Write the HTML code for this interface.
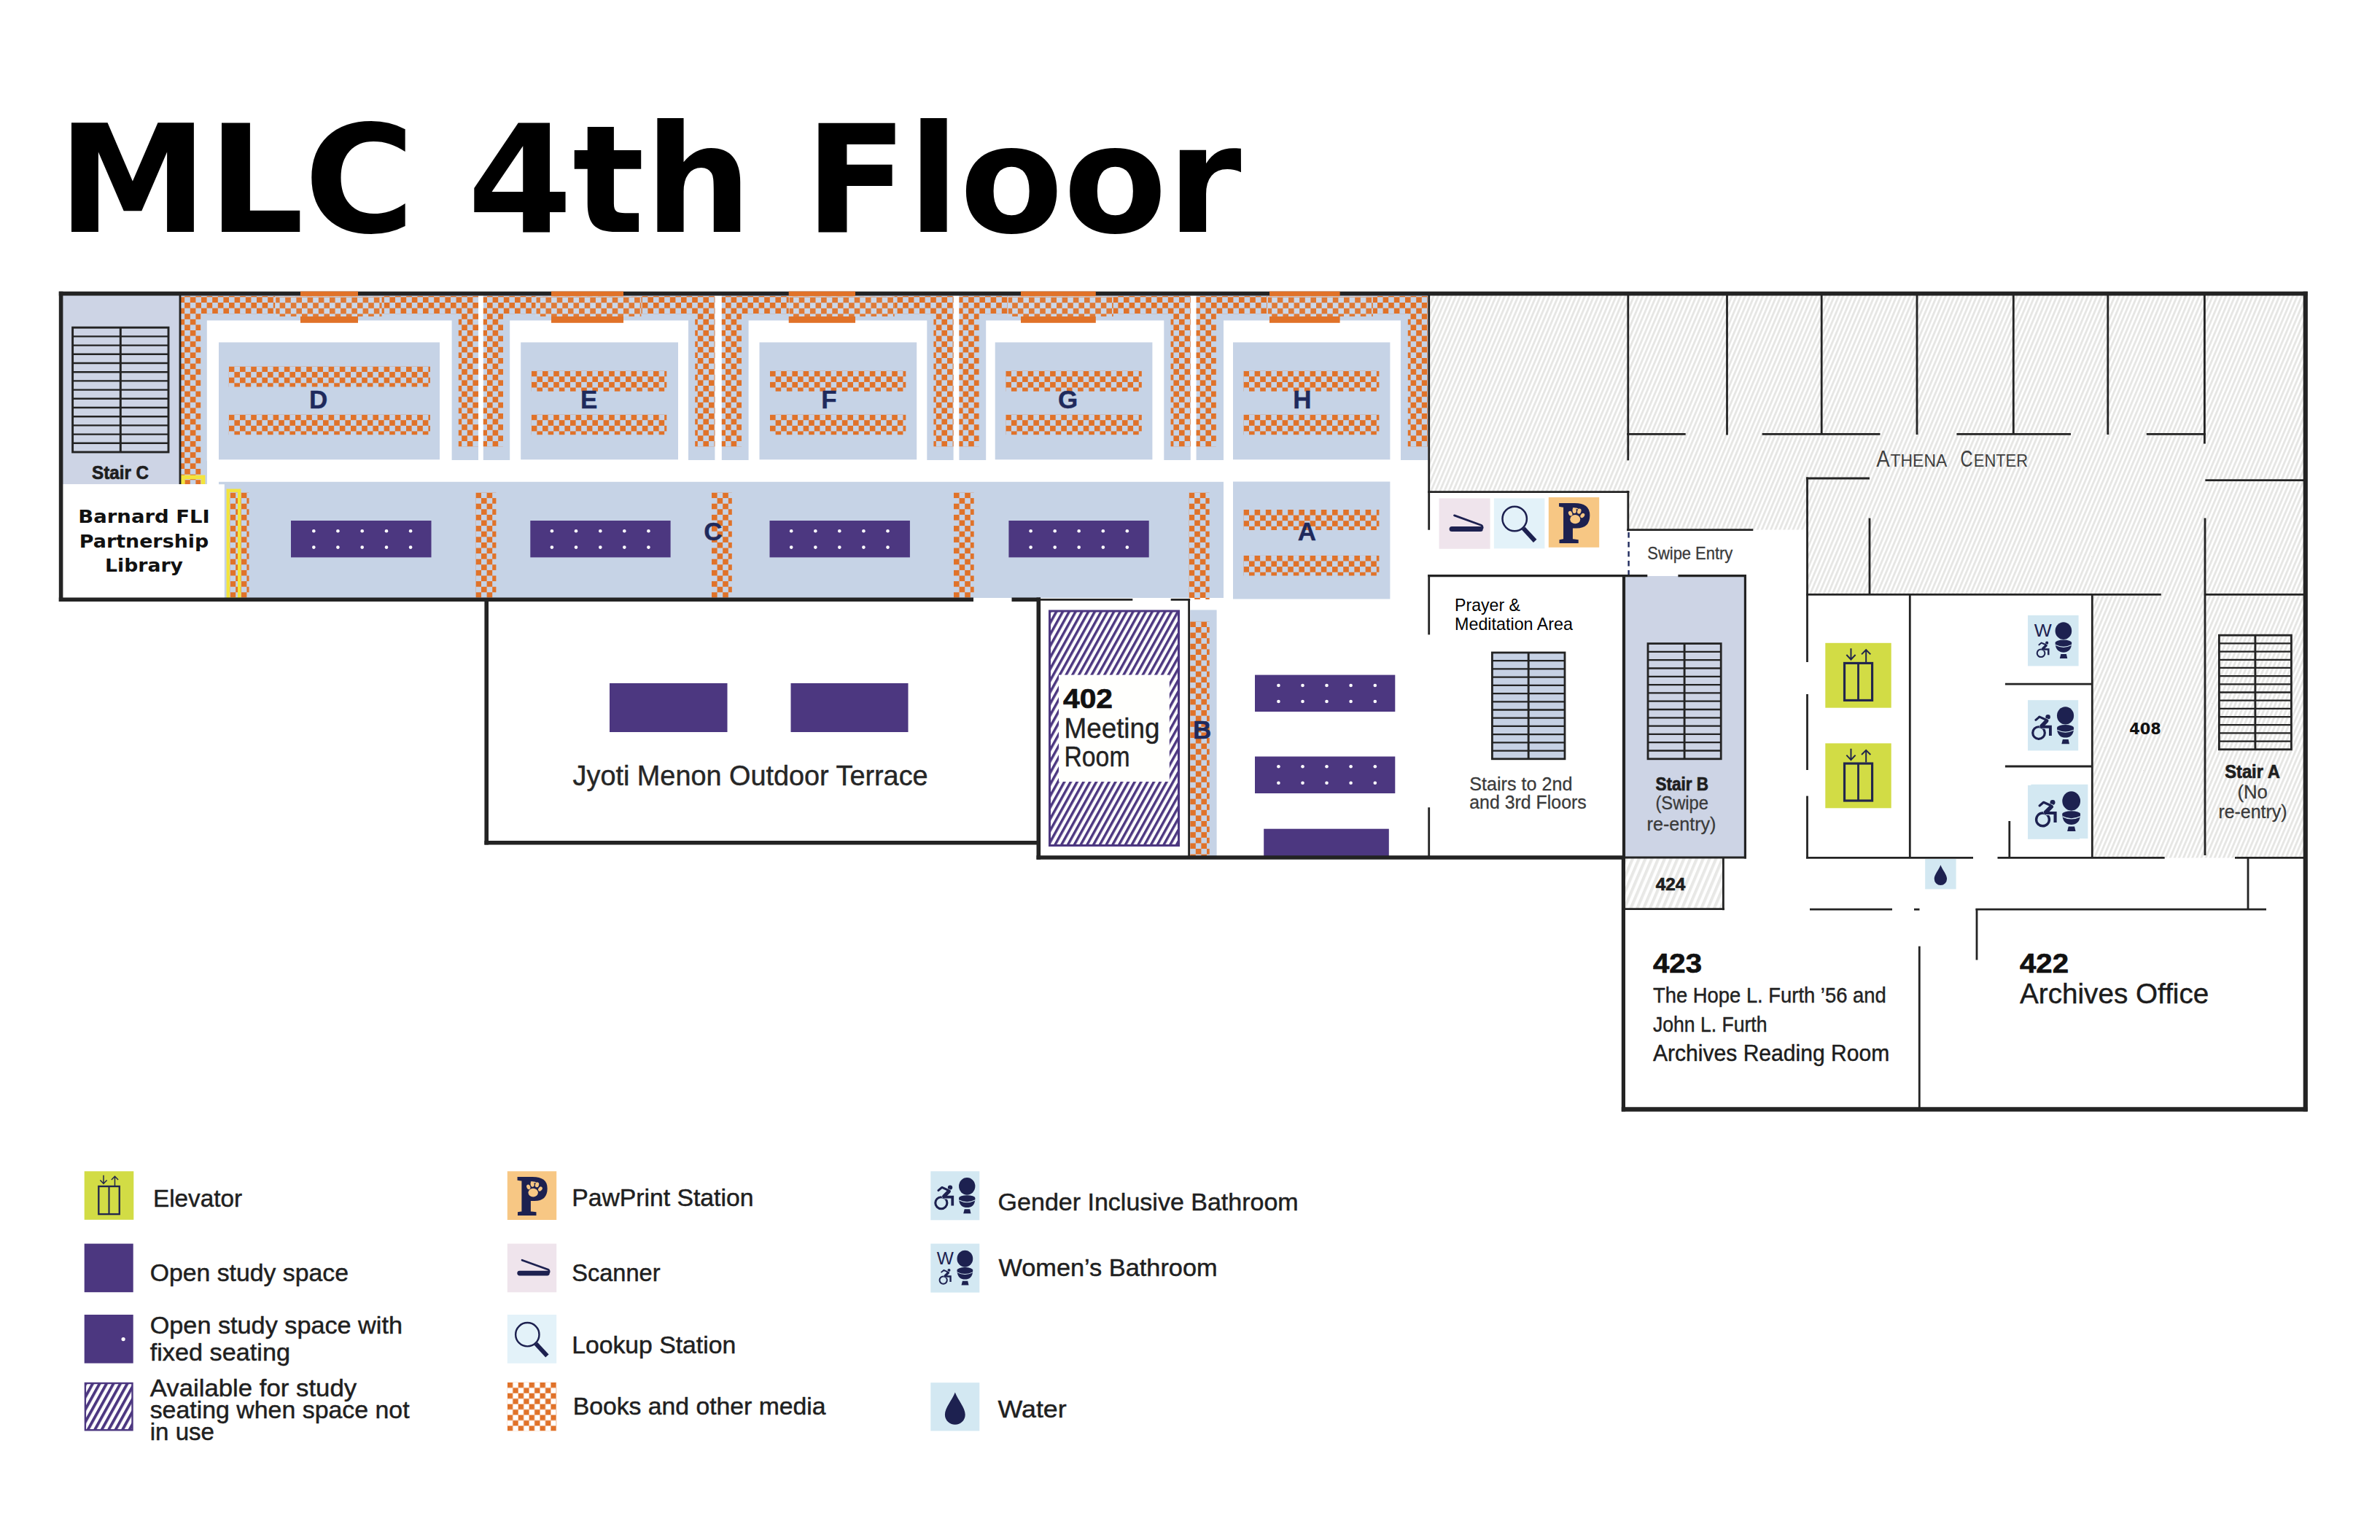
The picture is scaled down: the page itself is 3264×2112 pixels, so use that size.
<!DOCTYPE html>
<html lang="en"><head><meta charset="utf-8"><title>MLC 4th Floor</title>
<style>
html,body{margin:0;padding:0;background:#fff;}
body{width:3264px;height:2112px;overflow:hidden;}
svg{display:block;}
text{white-space:pre;}
</style></head><body>
<svg width="3264" height="2112" viewBox="0 0 3264 2112">
<rect width="3264" height="2112" fill="#ffffff"/>
<defs>
<pattern id="chk" patternUnits="userSpaceOnUse" width="15.2" height="15.2"><rect x="0" y="0" width="7.6" height="7.6" fill="#e07229"/><rect x="7.6" y="7.6" width="7.6" height="7.6" fill="#e07229"/></pattern>
<pattern id="chk2" patternUnits="userSpaceOnUse" width="15.2" height="15.2"><rect x="0" y="0" width="7.6" height="7.6" fill="#df7a36"/><rect x="7.6" y="7.6" width="7.6" height="7.6" fill="#df7a36"/></pattern>
<pattern id="chkL" patternUnits="userSpaceOnUse" width="14.9" height="14.9"><rect x="0" y="0" width="7.45" height="7.45" fill="#e07229"/><rect x="7.45" y="7.45" width="7.45" height="7.45" fill="#e07229"/></pattern>
<pattern id="hatch" patternUnits="userSpaceOnUse" width="5.62" height="12" patternTransform="rotate(23)"><rect x="0" y="0" width="5.62" height="12" fill="#ffffff"/><rect x="0" y="0" width="2.9" height="12" fill="#e6e6e4"/></pattern>
<pattern id="hatch2" patternUnits="userSpaceOnUse" width="8.1" height="12" patternTransform="rotate(23)"><rect x="0" y="0" width="8.1" height="12" fill="#ffffff"/><rect x="0" y="0" width="4.1" height="12" fill="#e8e8e6"/></pattern>
<pattern id="phatch" patternUnits="userSpaceOnUse" width="7.67" height="12" patternTransform="rotate(29)"><rect x="0" y="0" width="7.67" height="12" fill="#ffffff"/><rect x="0" y="0" width="3.5" height="12" fill="#4c3780"/></pattern>
<pattern id="phatchL" patternUnits="userSpaceOnUse" width="8.3" height="12" patternTransform="rotate(29)"><rect x="0" y="0" width="8.3" height="12" fill="#ffffff"/><rect x="0" y="0" width="3.9" height="12" fill="#4c3780"/></pattern>
</defs>
<text x="79.0" y="317.6" font-family="'DejaVu Sans', sans-serif" font-size="205" font-weight="bold" fill="#000" text-anchor="start" textLength="1623.6" lengthAdjust="spacingAndGlyphs" >MLC 4th Floor</text>
<rect x="86.0" y="405.0" width="160.0" height="259.0" fill="#cdd4e5" />
<rect x="248.0" y="631.0" width="36.0" height="33.0" fill="#c6d3e6" />
<rect x="248.0" y="405.0" width="408.0" height="226.0" fill="#c6d3e6" />
<rect x="283.8" y="439.5" width="335.8" height="192.5" fill="#fff" />
<rect x="300.0" y="469.5" width="303.0" height="160.8" fill="#c6d3e6" />
<g transform="translate(245.60,407.40)"><rect x="2.40" y="-1.40" width="408.00" height="24.20" fill="url(#chk)"/></g>
<g transform="translate(245.60,407.40)"><rect x="2.40" y="22.80" width="27.20" height="233.80" fill="url(#chk)"/></g>
<g transform="translate(245.60,407.40)"><rect x="383.20" y="22.80" width="27.20" height="182.30" fill="url(#chk)"/></g>
<g transform="translate(313.80,502.50)"><rect x="0.00" y="0.00" width="276.20" height="28.00" fill="url(#chk)"/></g>
<g transform="translate(313.80,568.60)"><rect x="0.00" y="0.00" width="276.20" height="27.60" fill="url(#chk)"/></g>
<rect x="377.2" y="406.2" width="146.4" height="27.8" fill="#cbd7e8" />
<g transform="translate(376.00,407.60)"><rect x="2.20" y="-0.40" width="145.40" height="26.80" fill="url(#chk2)"/></g>
<rect x="662.8" y="405.0" width="317.6" height="226.0" fill="#c6d3e6" />
<rect x="699.2" y="439.5" width="244.8" height="192.5" fill="#fff" />
<rect x="714.2" y="469.5" width="215.8" height="160.8" fill="#c6d3e6" />
<g transform="translate(660.40,407.40)"><rect x="2.40" y="-1.40" width="317.60" height="24.20" fill="url(#chk)"/></g>
<g transform="translate(660.40,407.40)"><rect x="2.40" y="22.80" width="27.20" height="182.30" fill="url(#chk)"/></g>
<g transform="translate(660.40,407.40)"><rect x="292.80" y="22.80" width="27.20" height="182.30" fill="url(#chk)"/></g>
<g transform="translate(728.80,508.70)"><rect x="0.00" y="0.00" width="185.50" height="28.00" fill="url(#chk)"/></g>
<g transform="translate(728.80,568.60)"><rect x="0.00" y="0.00" width="185.50" height="27.60" fill="url(#chk)"/></g>
<rect x="734.5" y="406.2" width="144.9" height="27.8" fill="#cbd7e8" />
<g transform="translate(733.30,407.60)"><rect x="2.20" y="-0.40" width="143.90" height="26.80" fill="url(#chk2)"/></g>
<rect x="989.8" y="405.0" width="317.8" height="226.0" fill="#c6d3e6" />
<rect x="1026.6" y="439.5" width="244.7" height="192.5" fill="#fff" />
<rect x="1041.5" y="469.5" width="215.7" height="160.8" fill="#c6d3e6" />
<g transform="translate(987.40,407.40)"><rect x="2.40" y="-1.40" width="317.80" height="24.20" fill="url(#chk)"/></g>
<g transform="translate(987.40,407.40)"><rect x="2.40" y="22.80" width="27.20" height="182.30" fill="url(#chk)"/></g>
<g transform="translate(987.40,407.40)"><rect x="293.00" y="22.80" width="27.20" height="182.30" fill="url(#chk)"/></g>
<g transform="translate(1056.00,508.70)"><rect x="0.00" y="0.00" width="186.30" height="28.00" fill="url(#chk)"/></g>
<g transform="translate(1056.00,568.60)"><rect x="0.00" y="0.00" width="186.30" height="27.60" fill="url(#chk)"/></g>
<rect x="1081.7" y="406.2" width="145.0" height="27.8" fill="#cbd7e8" />
<g transform="translate(1080.50,407.60)"><rect x="2.20" y="-0.40" width="144.00" height="26.80" fill="url(#chk2)"/></g>
<rect x="1315.4" y="405.0" width="317.4" height="226.0" fill="#c6d3e6" />
<rect x="1352.2" y="439.5" width="244.1" height="192.5" fill="#fff" />
<rect x="1364.7" y="469.5" width="215.7" height="160.8" fill="#c6d3e6" />
<g transform="translate(1313.00,407.40)"><rect x="2.40" y="-1.40" width="317.40" height="24.20" fill="url(#chk)"/></g>
<g transform="translate(1313.00,407.40)"><rect x="2.40" y="22.80" width="27.20" height="182.30" fill="url(#chk)"/></g>
<g transform="translate(1313.00,407.40)"><rect x="292.60" y="22.80" width="27.20" height="182.30" fill="url(#chk)"/></g>
<g transform="translate(1379.30,508.70)"><rect x="0.00" y="0.00" width="186.50" height="28.00" fill="url(#chk)"/></g>
<g transform="translate(1379.30,568.60)"><rect x="0.00" y="0.00" width="186.50" height="27.60" fill="url(#chk)"/></g>
<rect x="1381.8" y="406.2" width="145.0" height="27.8" fill="#cbd7e8" />
<g transform="translate(1380.60,407.60)"><rect x="2.20" y="-0.40" width="144.00" height="26.80" fill="url(#chk2)"/></g>
<rect x="1640.6" y="405.0" width="317.4" height="226.0" fill="#c6d3e6" />
<rect x="1678.0" y="439.5" width="243.0" height="192.5" fill="#fff" />
<rect x="1691.0" y="469.5" width="215.4" height="160.8" fill="#c6d3e6" />
<g transform="translate(1638.20,407.40)"><rect x="2.40" y="-1.40" width="317.40" height="24.20" fill="url(#chk)"/></g>
<g transform="translate(1638.20,407.40)"><rect x="2.40" y="22.80" width="27.20" height="182.30" fill="url(#chk)"/></g>
<g transform="translate(1638.20,407.40)"><rect x="292.60" y="22.80" width="27.20" height="182.30" fill="url(#chk)"/></g>
<g transform="translate(1705.40,508.70)"><rect x="0.00" y="0.00" width="186.00" height="28.00" fill="url(#chk)"/></g>
<g transform="translate(1705.40,568.60)"><rect x="0.00" y="0.00" width="186.00" height="27.60" fill="url(#chk)"/></g>
<rect x="1737.8" y="406.2" width="145.0" height="27.8" fill="#cbd7e8" />
<g transform="translate(1736.60,407.60)"><rect x="2.20" y="-0.40" width="144.00" height="26.80" fill="url(#chk2)"/></g>
<rect x="300.0" y="660.8" width="1378.0" height="159.2" fill="#c6d3e6" />
<rect x="1691.0" y="660.5" width="215.4" height="161.0" fill="#c6d3e6" />
<g transform="translate(1705.40,699.00)"><rect x="0.00" y="0.00" width="186.00" height="28.00" fill="url(#chk)"/></g>
<g transform="translate(1705.40,761.90)"><rect x="0.00" y="0.00" width="186.00" height="27.60" fill="url(#chk)"/></g>
<rect x="86.0" y="664.2" width="221.8" height="155.8" fill="#fff" />
<g transform="translate(315.60,675.50)"><rect x="0.00" y="0.00" width="25.90" height="144.00" fill="url(#chk)"/></g>
<g transform="translate(652.40,675.50)"><rect x="0.00" y="0.00" width="28.00" height="144.00" fill="url(#chk)"/></g>
<g transform="translate(976.00,675.50)"><rect x="0.00" y="0.00" width="27.80" height="144.00" fill="url(#chk)"/></g>
<g transform="translate(1308.00,675.50)"><rect x="0.00" y="0.00" width="27.70" height="144.00" fill="url(#chk)"/></g>
<g transform="translate(1630.60,675.50)"><rect x="0.00" y="0.00" width="28.10" height="146.50" fill="url(#chk)"/></g>
<rect x="250.8" y="654.4" width="27.8" height="14" fill="none" stroke="#f3e43c" stroke-width="5.6"/>
<rect x="246.0" y="664.0" width="38.0" height="10.0" fill="#fff" />
<rect x="312.8" y="672.7" width="15.4" height="149" fill="none" stroke="#f3e43c" stroke-width="4.4"/>
<rect x="399.0" y="714.0" width="192.5" height="50.4" fill="#4c3780" />
<circle cx="430.3" cy="728.2" r="2.3" fill="#fff"/>
<circle cx="430.3" cy="750.6" r="2.3" fill="#fff"/>
<circle cx="463.4" cy="728.2" r="2.3" fill="#fff"/>
<circle cx="463.4" cy="750.6" r="2.3" fill="#fff"/>
<circle cx="496.7" cy="728.2" r="2.3" fill="#fff"/>
<circle cx="496.7" cy="750.6" r="2.3" fill="#fff"/>
<circle cx="530.0" cy="728.2" r="2.3" fill="#fff"/>
<circle cx="530.0" cy="750.6" r="2.3" fill="#fff"/>
<circle cx="563.1" cy="728.2" r="2.3" fill="#fff"/>
<circle cx="563.1" cy="750.6" r="2.3" fill="#fff"/>
<rect x="727.3" y="714.0" width="192.3" height="50.4" fill="#4c3780" />
<circle cx="756.9" cy="728.2" r="2.3" fill="#fff"/>
<circle cx="756.9" cy="750.6" r="2.3" fill="#fff"/>
<circle cx="790.0" cy="728.2" r="2.3" fill="#fff"/>
<circle cx="790.0" cy="750.6" r="2.3" fill="#fff"/>
<circle cx="823.3" cy="728.2" r="2.3" fill="#fff"/>
<circle cx="823.3" cy="750.6" r="2.3" fill="#fff"/>
<circle cx="856.3" cy="728.2" r="2.3" fill="#fff"/>
<circle cx="856.3" cy="750.6" r="2.3" fill="#fff"/>
<circle cx="889.4" cy="728.2" r="2.3" fill="#fff"/>
<circle cx="889.4" cy="750.6" r="2.3" fill="#fff"/>
<rect x="1055.5" y="714.0" width="192.4" height="50.4" fill="#4c3780" />
<circle cx="1085.2" cy="728.2" r="2.3" fill="#fff"/>
<circle cx="1085.2" cy="750.6" r="2.3" fill="#fff"/>
<circle cx="1118.3" cy="728.2" r="2.3" fill="#fff"/>
<circle cx="1118.3" cy="750.6" r="2.3" fill="#fff"/>
<circle cx="1151.3" cy="728.2" r="2.3" fill="#fff"/>
<circle cx="1151.3" cy="750.6" r="2.3" fill="#fff"/>
<circle cx="1184.4" cy="728.2" r="2.3" fill="#fff"/>
<circle cx="1184.4" cy="750.6" r="2.3" fill="#fff"/>
<circle cx="1217.5" cy="728.2" r="2.3" fill="#fff"/>
<circle cx="1217.5" cy="750.6" r="2.3" fill="#fff"/>
<rect x="1383.4" y="714.0" width="192.3" height="50.4" fill="#4c3780" />
<circle cx="1413.6" cy="728.2" r="2.3" fill="#fff"/>
<circle cx="1413.6" cy="750.6" r="2.3" fill="#fff"/>
<circle cx="1446.7" cy="728.2" r="2.3" fill="#fff"/>
<circle cx="1446.7" cy="750.6" r="2.3" fill="#fff"/>
<circle cx="1479.7" cy="728.2" r="2.3" fill="#fff"/>
<circle cx="1479.7" cy="750.6" r="2.3" fill="#fff"/>
<circle cx="1512.8" cy="728.2" r="2.3" fill="#fff"/>
<circle cx="1512.8" cy="750.6" r="2.3" fill="#fff"/>
<circle cx="1545.8" cy="728.2" r="2.3" fill="#fff"/>
<circle cx="1545.8" cy="750.6" r="2.3" fill="#fff"/>
<rect x="836.0" y="937.0" width="161.5" height="67.0" fill="#4c3780" />
<rect x="1084.5" y="937.0" width="161.0" height="67.0" fill="#4c3780" />
<rect x="1439.5" y="838" width="177" height="321.5" fill="url(#phatch)" stroke="#4c3780" stroke-width="3"/>
<rect x="1452.0" y="925.6" width="151.8" height="146.4" fill="#fffffd" />
<rect x="1632.2" y="836.5" width="36.4" height="337.5" fill="#c6d3e6" />
<g transform="translate(1632.20,852.40)"><rect x="0.00" y="0.00" width="26.50" height="321.60" fill="url(#chk)"/></g>
<rect x="1721.0" y="925.6" width="192.3" height="50.4" fill="#4c3780" />
<circle cx="1753.4" cy="940.0" r="2.3" fill="#fff"/>
<circle cx="1753.4" cy="962.0" r="2.3" fill="#fff"/>
<circle cx="1786.5" cy="940.0" r="2.3" fill="#fff"/>
<circle cx="1786.5" cy="962.0" r="2.3" fill="#fff"/>
<circle cx="1819.5" cy="940.0" r="2.3" fill="#fff"/>
<circle cx="1819.5" cy="962.0" r="2.3" fill="#fff"/>
<circle cx="1852.6" cy="940.0" r="2.3" fill="#fff"/>
<circle cx="1852.6" cy="962.0" r="2.3" fill="#fff"/>
<circle cx="1885.8" cy="940.0" r="2.3" fill="#fff"/>
<circle cx="1885.8" cy="962.0" r="2.3" fill="#fff"/>
<rect x="1721.0" y="1037.5" width="192.3" height="50.5" fill="#4c3780" />
<circle cx="1753.4" cy="1051.3" r="2.3" fill="#fff"/>
<circle cx="1753.4" cy="1073.7" r="2.3" fill="#fff"/>
<circle cx="1786.5" cy="1051.3" r="2.3" fill="#fff"/>
<circle cx="1786.5" cy="1073.7" r="2.3" fill="#fff"/>
<circle cx="1819.5" cy="1051.3" r="2.3" fill="#fff"/>
<circle cx="1819.5" cy="1073.7" r="2.3" fill="#fff"/>
<circle cx="1852.6" cy="1051.3" r="2.3" fill="#fff"/>
<circle cx="1852.6" cy="1073.7" r="2.3" fill="#fff"/>
<circle cx="1885.8" cy="1051.3" r="2.3" fill="#fff"/>
<circle cx="1885.8" cy="1073.7" r="2.3" fill="#fff"/>
<rect x="1733.2" y="1136.7" width="171.6" height="37.3" fill="#4c3780" />
<path d="M1961 405 H3159 V1176.6 H2869 V815.5 H2478 V726.6 H2233 V674.5 H1961 Z" fill="url(#hatch)"/>
<rect x="2229.0" y="1176.0" width="135.0" height="70.5" fill="url(#hatch2)" />
<rect x="2227" y="790" width="166.5" height="385" fill="#cdd4e5"/>
<line x1="247.0" y1="405.0" x2="247.0" y2="664.0" stroke="#232323" stroke-width="2.8" />
<line x1="1427.0" y1="822.4" x2="1553.3" y2="822.4" stroke="#232323" stroke-width="2.8" />
<line x1="1605.7" y1="822.4" x2="1632.2" y2="822.4" stroke="#232323" stroke-width="2.8" />
<line x1="1630.6" y1="821.0" x2="1630.6" y2="1176.0" stroke="#232323" stroke-width="2.8" />
<line x1="1959.7" y1="405.0" x2="1959.7" y2="726.7" stroke="#232323" stroke-width="2.8" />
<line x1="1958.2" y1="674.6" x2="2234.4" y2="674.6" stroke="#232323" stroke-width="2.8" />
<line x1="2232.8" y1="405.0" x2="2232.8" y2="631.4" stroke="#232323" stroke-width="2.8" />
<line x1="2232.8" y1="673.0" x2="2232.8" y2="728.2" stroke="#232323" stroke-width="2.8" />
<line x1="2231.2" y1="726.6" x2="2404.3" y2="726.6" stroke="#232323" stroke-width="2.8" />
<line x1="2233.6" y1="730" x2="2233.6" y2="788" stroke="#1f2a5c" stroke-width="2.4" stroke-dasharray="7.5 5.5"/>
<line x1="1958.2" y1="789.6" x2="2259.3" y2="789.6" stroke="#232323" stroke-width="3.3" />
<line x1="2301.4" y1="789.6" x2="2395.0" y2="789.6" stroke="#232323" stroke-width="3.3" />
<line x1="1959.7" y1="788.0" x2="1959.7" y2="870.4" stroke="#232323" stroke-width="2.8" />
<line x1="1959.7" y1="1107.3" x2="1959.7" y2="1176.0" stroke="#232323" stroke-width="2.8" />
<line x1="2393.4" y1="788.0" x2="2393.4" y2="1177.5" stroke="#232323" stroke-width="3.1999999999999997" />
<line x1="2229.0" y1="1176.0" x2="2395.0" y2="1176.0" stroke="#232323" stroke-width="3.1999999999999997" />
<line x1="2363.4" y1="1176.0" x2="2363.4" y2="1248.2" stroke="#232323" stroke-width="2.8" />
<line x1="2229.0" y1="1246.6" x2="2365.0" y2="1246.6" stroke="#232323" stroke-width="2.8" />
<line x1="2231.2" y1="595.4" x2="2311.7" y2="595.4" stroke="#232323" stroke-width="2.8" />
<line x1="2416.7" y1="595.4" x2="2578.5" y2="595.4" stroke="#232323" stroke-width="2.8" />
<line x1="2683.4" y1="595.4" x2="2840.0" y2="595.4" stroke="#232323" stroke-width="2.8" />
<line x1="2943.8" y1="595.4" x2="3025.0" y2="595.4" stroke="#232323" stroke-width="2.8" />
<line x1="2368.5" y1="405.0" x2="2368.5" y2="596.5" stroke="#232323" stroke-width="2.8" />
<line x1="2498.2" y1="405.0" x2="2498.2" y2="596.0" stroke="#232323" stroke-width="2.8" />
<line x1="2629.0" y1="405.0" x2="2629.0" y2="596.0" stroke="#232323" stroke-width="2.8" />
<line x1="2761.3" y1="405.0" x2="2761.3" y2="596.0" stroke="#232323" stroke-width="2.8" />
<line x1="2890.8" y1="405.0" x2="2890.8" y2="596.0" stroke="#232323" stroke-width="2.8" />
<line x1="3023.4" y1="405.0" x2="3023.4" y2="608.5" stroke="#232323" stroke-width="2.8" />
<line x1="2477.0" y1="656.0" x2="2564.0" y2="656.0" stroke="#232323" stroke-width="2.8" />
<line x1="2478.5" y1="654.5" x2="2478.5" y2="908.0" stroke="#232323" stroke-width="2.8" />
<line x1="2478.5" y1="952.0" x2="2478.5" y2="1056.0" stroke="#232323" stroke-width="2.8" />
<line x1="2478.5" y1="1091.6" x2="2478.5" y2="1177.2" stroke="#232323" stroke-width="2.8" />
<line x1="2564.0" y1="710.6" x2="2564.0" y2="815.5" stroke="#232323" stroke-width="2.8" />
<line x1="2477.0" y1="815.4" x2="2963.8" y2="815.4" stroke="#232323" stroke-width="2.8" />
<line x1="3022.8" y1="815.4" x2="3160.0" y2="815.4" stroke="#232323" stroke-width="2.8" />
<line x1="3024.0" y1="710.6" x2="3024.0" y2="1173.0" stroke="#232323" stroke-width="2.8" />
<line x1="3024.4" y1="658.7" x2="3160.0" y2="658.7" stroke="#232323" stroke-width="2.8" />
<line x1="2619.3" y1="815.0" x2="2619.3" y2="1176.5" stroke="#232323" stroke-width="2.8" />
<line x1="2869.3" y1="815.0" x2="2869.3" y2="1176.5" stroke="#232323" stroke-width="2.8" />
<line x1="2749.9" y1="938.2" x2="2869.3" y2="938.2" stroke="#232323" stroke-width="2.8" />
<line x1="2749.9" y1="1051.0" x2="2869.3" y2="1051.0" stroke="#232323" stroke-width="2.8" />
<line x1="2755.8" y1="1126.0" x2="2755.8" y2="1176.0" stroke="#232323" stroke-width="2.8" />
<line x1="2477.0" y1="1176.4" x2="2706.0" y2="1176.4" stroke="#232323" stroke-width="2.8" />
<line x1="2739.5" y1="1176.4" x2="2968.7" y2="1176.4" stroke="#232323" stroke-width="2.8" />
<line x1="3065.0" y1="1176.4" x2="3160.0" y2="1176.4" stroke="#232323" stroke-width="2.8" />
<line x1="3083.0" y1="1175.0" x2="3083.0" y2="1248.0" stroke="#232323" stroke-width="2.8" />
<line x1="2482.0" y1="1247.2" x2="2595.0" y2="1247.2" stroke="#232323" stroke-width="2.8" />
<line x1="2625.0" y1="1247.2" x2="2632.5" y2="1247.2" stroke="#232323" stroke-width="2.8" />
<line x1="2709.5" y1="1247.2" x2="3108.0" y2="1247.2" stroke="#232323" stroke-width="2.8" />
<line x1="2632.3" y1="1297.7" x2="2632.3" y2="1520.0" stroke="#232323" stroke-width="2.8" />
<line x1="2711.0" y1="1246.0" x2="2711.0" y2="1316.5" stroke="#232323" stroke-width="2.8" />
<line x1="80.8" y1="402.6" x2="3164.6" y2="402.6" stroke="#232323" stroke-width="5.6" />
<line x1="83.6" y1="399.8" x2="83.6" y2="825.0" stroke="#232323" stroke-width="5.6" />
<line x1="80.8" y1="822.3" x2="1335.0" y2="822.3" stroke="#232323" stroke-width="5.6" />
<line x1="1387.5" y1="822.3" x2="1427.0" y2="822.3" stroke="#232323" stroke-width="5.6" />
<line x1="667.2" y1="822.0" x2="667.2" y2="1158.6" stroke="#232323" stroke-width="5.6" />
<line x1="664.4" y1="1155.8" x2="1424.0" y2="1155.8" stroke="#232323" stroke-width="5.6" />
<line x1="1424.3" y1="819.6" x2="1424.3" y2="1178.8" stroke="#232323" stroke-width="5.6" />
<line x1="1421.5" y1="1176.0" x2="2229.0" y2="1176.0" stroke="#232323" stroke-width="5.6" />
<line x1="2227.0" y1="788.0" x2="2227.0" y2="1177.0" stroke="#232323" stroke-width="4.2" />
<line x1="2226.4" y1="1174.0" x2="2226.4" y2="1524.2" stroke="#232323" stroke-width="5.199999999999999" />
<line x1="2223.8" y1="1521.3" x2="3164.6" y2="1521.3" stroke="#232323" stroke-width="6.199999999999999" />
<line x1="3161.8" y1="399.8" x2="3161.8" y2="1524.2" stroke="#232323" stroke-width="6.199999999999999" />
<rect x="412.0" y="399.6" width="79.0" height="6.6" fill="#e07229" />
<rect x="412.0" y="434.0" width="79.0" height="8.8" fill="#e07229" />
<rect x="756.0" y="399.6" width="99.0" height="6.6" fill="#e07229" />
<rect x="756.0" y="434.0" width="99.0" height="8.8" fill="#e07229" />
<rect x="1081.7" y="399.6" width="91.3" height="6.6" fill="#e07229" />
<rect x="1081.7" y="434.0" width="91.3" height="8.8" fill="#e07229" />
<rect x="1400.0" y="399.6" width="102.8" height="6.6" fill="#e07229" />
<rect x="1400.0" y="434.0" width="102.8" height="8.8" fill="#e07229" />
<rect x="1741.0" y="399.6" width="96.6" height="6.6" fill="#e07229" />
<rect x="1741.0" y="434.0" width="96.6" height="8.8" fill="#e07229" />
<rect x="1973.6" y="683.4" width="70.0" height="69.3" fill="#efe4ec" />
<g transform="translate(1973.6,683.4) scale(0.7000)" stroke="#1d2150" stroke-linecap="round" fill="none">
<line x1="25" y1="60" x2="81" y2="60" stroke-width="10"/>
<path d="M30 33.5 L82.5 52.6 Q85.5 54 85 58" stroke-width="4" stroke-linejoin="round"/>
</g>
<rect x="2048.8" y="683.4" width="69.6" height="68.9" fill="#e3f2f9" />
<g transform="translate(2048.8,683.4) scale(0.6960)" stroke="#1d2150" fill="none">
<circle cx="40.8" cy="40.4" r="24" stroke-width="3.6"/>
<line x1="58" y1="59" x2="81" y2="84" stroke-width="8.8"/>
</g>
<rect x="2123.8" y="682.0" width="69.4" height="68.7" fill="#f7c784" />
<text x="2159.5" y="743.8" font-family="'Liberation Serif', serif" font-weight="bold" font-size="80.5" text-anchor="middle" fill="#1d2150" stroke="#1d2150" stroke-width="2.08" textLength="43.7" lengthAdjust="spacingAndGlyphs">P</text>
<g transform="translate(2123.8,682.0) scale(0.6940)" fill="#f7c784">
<ellipse cx="56" cy="40" rx="18" ry="16.5" fill="#1d2150"/>
<ellipse cx="52.5" cy="43.5" rx="10" ry="8.8"/>
<ellipse cx="43" cy="32" rx="3.6" ry="5" transform="rotate(-25 43 32)"/>
<ellipse cx="51" cy="26.5" rx="3.8" ry="5.2" transform="rotate(-8 51 26.5)"/>
<ellipse cx="60.5" cy="27.5" rx="3.8" ry="5.2" transform="rotate(14 60.5 27.5)"/>
<ellipse cx="67" cy="36" rx="3.6" ry="5" transform="rotate(38 67 36)"/>
</g>
<rect x="2503.3" y="881.8" width="90.4" height="88.9" fill="#d2dc45" />
<g transform="translate(2503.3,881.8) scale(0.9040)" fill="none" stroke="#22264d" stroke-width="3.5">
<rect x="29" y="30.6" width="42.1" height="56.4"/><line x1="50" y1="30.6" x2="50" y2="87" stroke-width="3.1"/>
<path d="M38.9 8.2 V26 M32.1 17.9 L38.9 25.1 L45.7 17.9" stroke-width="2.2"/>
<path d="M61.8 29 V10.4 M55 17.2 L61.8 10.4 L68.6 17.2" stroke-width="2.2"/>
</g>
<rect x="2503.3" y="1019.4" width="90.4" height="88.9" fill="#d2dc45" />
<g transform="translate(2503.3,1019.4) scale(0.9040)" fill="none" stroke="#22264d" stroke-width="3.5">
<rect x="29" y="30.6" width="42.1" height="56.4"/><line x1="50" y1="30.6" x2="50" y2="87" stroke-width="3.1"/>
<path d="M38.9 8.2 V26 M32.1 17.9 L38.9 25.1 L45.7 17.9" stroke-width="2.2"/>
<path d="M61.8 29 V10.4 M55 17.2 L61.8 10.4 L68.6 17.2" stroke-width="2.2"/>
</g>
<rect x="2781.0" y="843.8" width="69.6" height="69.6" fill="#d3e8f2" />
<text x="2789.7" y="873.2" font-family="'Liberation Sans', sans-serif" font-size="24.011999999999997" font-weight="normal" fill="#1d2150" text-anchor="start" textLength="24.0" lengthAdjust="spacingAndGlyphs" >W</text>
<g transform="translate(2792.69,879.71) scale(0.4454) translate(-7.4,-28.8)" fill="none" stroke="#1d2150" stroke-linecap="butt" stroke-linejoin="miter">
<circle cx="39.9" cy="33.3" r="4.7" fill="#1d2150" stroke="none"/>
<circle cx="21.7" cy="64.8" r="12" stroke-width="4.6"/>
<path d="M27.5 52.8 H44.7 V70.4" stroke="#d3e8f2" stroke-width="8.2"/>
<path d="M37.4 41.2 L27.6 51.0" stroke="#d3e8f2" stroke-width="9.6" stroke-linecap="round"/>
<path d="M37.4 41.2 L27.2 51.4" stroke-width="7.6" stroke-linecap="round"/>
<path d="M35.4 38.4 L23.2 33.0 L15.8 39.2" stroke-width="4.4" stroke-linecap="round" stroke-linejoin="round"/>
<path d="M25.4 52.8 H44.7 V70.4" stroke-width="5.6"/>
</g>
<g transform="translate(2779.61,844.50) scale(0.6751)" fill="#1d2150">
<ellipse cx="74.5" cy="30.6" rx="16.7" ry="17.7"/>
<ellipse cx="74.5" cy="54.6" rx="16.7" ry="5.6"/>
<path d="M57.8 54.6 C57.8 70 66 74.3 74.5 74.3 C83 74.3 91.2 70 91.2 54.6 Z"/>
<path d="M58.2 59.4 Q74.5 67.4 90.8 59.4" fill="none" stroke="#d3e8f2" stroke-width="1.7"/>
<path d="M69.2 77.6 H80.4 L82.4 86.6 H67.0 Z"/>
</g>
<rect x="2781.0" y="960.2" width="69.2" height="69.2" fill="#d3e8f2" />
<g transform="translate(2786.12,980.13) scale(0.6920) translate(-7.4,-28.8)" fill="none" stroke="#1d2150" stroke-linecap="butt" stroke-linejoin="miter">
<circle cx="39.9" cy="33.3" r="4.7" fill="#1d2150" stroke="none"/>
<circle cx="21.7" cy="64.8" r="12" stroke-width="4.6"/>
<path d="M27.5 52.8 H44.7 V70.4" stroke="#d3e8f2" stroke-width="8.2"/>
<path d="M37.4 41.2 L27.6 51.0" stroke="#d3e8f2" stroke-width="9.6" stroke-linecap="round"/>
<path d="M37.4 41.2 L27.2 51.4" stroke-width="7.6" stroke-linecap="round"/>
<path d="M35.4 38.4 L23.2 33.0 L15.8 39.2" stroke-width="4.4" stroke-linecap="round" stroke-linejoin="round"/>
<path d="M25.4 52.8 H44.7 V70.4" stroke-width="5.6"/>
</g>
<g transform="translate(2781.00,960.20) scale(0.6920)" fill="#1d2150">
<ellipse cx="74.5" cy="30.6" rx="16.7" ry="17.7"/>
<ellipse cx="74.5" cy="54.6" rx="16.7" ry="5.6"/>
<path d="M57.8 54.6 C57.8 70 66 74.3 74.5 74.3 C83 74.3 91.2 70 91.2 54.6 Z"/>
<path d="M58.2 59.4 Q74.5 67.4 90.8 59.4" fill="none" stroke="#d3e8f2" stroke-width="1.7"/>
<path d="M69.2 77.6 H80.4 L82.4 86.6 H67.0 Z"/>
</g>
<rect x="2781.0" y="1077.0" width="71.0" height="73.8" fill="#d3e8f2" />
<rect x="2785.4" y="1075.8" width="78.0" height="74.2" fill="#d3e8f2" />
<g transform="translate(2790.89,1097.17) scale(0.7420) translate(-7.4,-28.8)" fill="none" stroke="#1d2150" stroke-linecap="butt" stroke-linejoin="miter">
<circle cx="39.9" cy="33.3" r="4.7" fill="#1d2150" stroke="none"/>
<circle cx="21.7" cy="64.8" r="12" stroke-width="4.6"/>
<path d="M27.5 52.8 H44.7 V70.4" stroke="#d3e8f2" stroke-width="8.2"/>
<path d="M37.4 41.2 L27.6 51.0" stroke="#d3e8f2" stroke-width="9.6" stroke-linecap="round"/>
<path d="M37.4 41.2 L27.2 51.4" stroke-width="7.6" stroke-linecap="round"/>
<path d="M35.4 38.4 L23.2 33.0 L15.8 39.2" stroke-width="4.4" stroke-linecap="round" stroke-linejoin="round"/>
<path d="M25.4 52.8 H44.7 V70.4" stroke-width="5.6"/>
</g>
<g transform="translate(2785.40,1075.80) scale(0.7420)" fill="#1d2150">
<ellipse cx="74.5" cy="30.6" rx="16.7" ry="17.7"/>
<ellipse cx="74.5" cy="54.6" rx="16.7" ry="5.6"/>
<path d="M57.8 54.6 C57.8 70 66 74.3 74.5 74.3 C83 74.3 91.2 70 91.2 54.6 Z"/>
<path d="M58.2 59.4 Q74.5 67.4 90.8 59.4" fill="none" stroke="#d3e8f2" stroke-width="1.7"/>
<path d="M69.2 77.6 H80.4 L82.4 86.6 H67.0 Z"/>
</g>
<rect x="2640.2" y="1178.0" width="42.4" height="41.4" fill="#d3e8f2" />
<path transform="translate(2661.4,1178.0) scale(0.4140)" fill="#1d2150" d="M0 20 C6 36 21 52 21 66 A21 21 0 0 1 -21 66 C-21 52 -6 36 0 20 Z"/>
<g stroke="#232323" stroke-width="2.4" fill="none">
<rect x="99.6" y="449.2" width="131.4" height="170.8" stroke-width="2.9"/>
<line x1="165.3" y1="449.2" x2="165.3" y2="620.0" stroke-width="3.0"/>
<line x1="99.6" y1="461.4" x2="231.0" y2="461.4"/>
<line x1="99.6" y1="473.6" x2="231.0" y2="473.6"/>
<line x1="99.6" y1="485.8" x2="231.0" y2="485.8"/>
<line x1="99.6" y1="498.0" x2="231.0" y2="498.0"/>
<line x1="99.6" y1="510.2" x2="231.0" y2="510.2"/>
<line x1="99.6" y1="522.4" x2="231.0" y2="522.4"/>
<line x1="99.6" y1="534.6" x2="231.0" y2="534.6"/>
<line x1="99.6" y1="546.8" x2="231.0" y2="546.8"/>
<line x1="99.6" y1="559.0" x2="231.0" y2="559.0"/>
<line x1="99.6" y1="571.2" x2="231.0" y2="571.2"/>
<line x1="99.6" y1="583.4" x2="231.0" y2="583.4"/>
<line x1="99.6" y1="595.6" x2="231.0" y2="595.6"/>
<line x1="99.6" y1="607.8" x2="231.0" y2="607.8"/>
</g>
<rect x="2046.4" y="895.0" width="99.6" height="145.8" fill="#c6d1e4" />
<g stroke="#232323" stroke-width="2.3" fill="none">
<rect x="2046.4" y="895.0" width="99.6" height="145.8" stroke-width="2.8"/>
<line x1="2096.2" y1="895.0" x2="2096.2" y2="1040.8" stroke-width="2.9"/>
<line x1="2046.4" y1="906.2" x2="2146.0" y2="906.2"/>
<line x1="2046.4" y1="917.4" x2="2146.0" y2="917.4"/>
<line x1="2046.4" y1="928.6" x2="2146.0" y2="928.6"/>
<line x1="2046.4" y1="939.9" x2="2146.0" y2="939.9"/>
<line x1="2046.4" y1="951.1" x2="2146.0" y2="951.1"/>
<line x1="2046.4" y1="962.3" x2="2146.0" y2="962.3"/>
<line x1="2046.4" y1="973.5" x2="2146.0" y2="973.5"/>
<line x1="2046.4" y1="984.7" x2="2146.0" y2="984.7"/>
<line x1="2046.4" y1="995.9" x2="2146.0" y2="995.9"/>
<line x1="2046.4" y1="1007.2" x2="2146.0" y2="1007.2"/>
<line x1="2046.4" y1="1018.4" x2="2146.0" y2="1018.4"/>
<line x1="2046.4" y1="1029.6" x2="2146.0" y2="1029.6"/>
</g>
<g stroke="#232323" stroke-width="2.3" fill="none">
<rect x="2260.0" y="882.6" width="100.2" height="158.2" stroke-width="2.8"/>
<line x1="2310.1" y1="882.6" x2="2310.1" y2="1040.8" stroke-width="2.9"/>
<line x1="2260.0" y1="893.9" x2="2360.2" y2="893.9"/>
<line x1="2260.0" y1="905.2" x2="2360.2" y2="905.2"/>
<line x1="2260.0" y1="916.5" x2="2360.2" y2="916.5"/>
<line x1="2260.0" y1="927.8" x2="2360.2" y2="927.8"/>
<line x1="2260.0" y1="939.1" x2="2360.2" y2="939.1"/>
<line x1="2260.0" y1="950.4" x2="2360.2" y2="950.4"/>
<line x1="2260.0" y1="961.7" x2="2360.2" y2="961.7"/>
<line x1="2260.0" y1="973.0" x2="2360.2" y2="973.0"/>
<line x1="2260.0" y1="984.3" x2="2360.2" y2="984.3"/>
<line x1="2260.0" y1="995.6" x2="2360.2" y2="995.6"/>
<line x1="2260.0" y1="1006.9" x2="2360.2" y2="1006.9"/>
<line x1="2260.0" y1="1018.2" x2="2360.2" y2="1018.2"/>
<line x1="2260.0" y1="1029.5" x2="2360.2" y2="1029.5"/>
</g>
<g stroke="#232323" stroke-width="2.3" fill="none">
<rect x="3043.4" y="871.2" width="99.0" height="156.6" stroke-width="2.8"/>
<line x1="3092.9" y1="871.2" x2="3092.9" y2="1027.8" stroke-width="2.9"/>
<line x1="3043.4" y1="882.4" x2="3142.4" y2="882.4"/>
<line x1="3043.4" y1="893.6" x2="3142.4" y2="893.6"/>
<line x1="3043.4" y1="904.8" x2="3142.4" y2="904.8"/>
<line x1="3043.4" y1="915.9" x2="3142.4" y2="915.9"/>
<line x1="3043.4" y1="927.1" x2="3142.4" y2="927.1"/>
<line x1="3043.4" y1="938.3" x2="3142.4" y2="938.3"/>
<line x1="3043.4" y1="949.5" x2="3142.4" y2="949.5"/>
<line x1="3043.4" y1="960.7" x2="3142.4" y2="960.7"/>
<line x1="3043.4" y1="971.9" x2="3142.4" y2="971.9"/>
<line x1="3043.4" y1="983.1" x2="3142.4" y2="983.1"/>
<line x1="3043.4" y1="994.2" x2="3142.4" y2="994.2"/>
<line x1="3043.4" y1="1005.4" x2="3142.4" y2="1005.4"/>
<line x1="3043.4" y1="1016.6" x2="3142.4" y2="1016.6"/>
</g>
<text x="436.6" y="560.0" font-family="'Liberation Sans', sans-serif" font-size="35" font-weight="bold" fill="#1f2a5c" text-anchor="middle"  stroke="#1f2a5c" stroke-width="0.4" stroke-linejoin="round">D</text>
<text x="807.6" y="560.0" font-family="'Liberation Sans', sans-serif" font-size="35" font-weight="bold" fill="#1f2a5c" text-anchor="middle"  stroke="#1f2a5c" stroke-width="0.4" stroke-linejoin="round">E</text>
<text x="1137.0" y="560.0" font-family="'Liberation Sans', sans-serif" font-size="35" font-weight="bold" fill="#1f2a5c" text-anchor="middle"  stroke="#1f2a5c" stroke-width="0.4" stroke-linejoin="round">F</text>
<text x="1464.5" y="560.0" font-family="'Liberation Sans', sans-serif" font-size="35" font-weight="bold" fill="#1f2a5c" text-anchor="middle"  stroke="#1f2a5c" stroke-width="0.4" stroke-linejoin="round">G</text>
<text x="1786.0" y="560.0" font-family="'Liberation Sans', sans-serif" font-size="35" font-weight="bold" fill="#1f2a5c" text-anchor="middle"  stroke="#1f2a5c" stroke-width="0.4" stroke-linejoin="round">H</text>
<text x="978.0" y="740.5" font-family="'Liberation Sans', sans-serif" font-size="35" font-weight="bold" fill="#1f2a5c" text-anchor="middle"  stroke="#1f2a5c" stroke-width="0.4" stroke-linejoin="round">C</text>
<text x="1792.4" y="740.5" font-family="'Liberation Sans', sans-serif" font-size="35" font-weight="bold" fill="#1f2a5c" text-anchor="middle"  stroke="#1f2a5c" stroke-width="0.4" stroke-linejoin="round">A</text>
<text x="1648.7" y="1013.0" font-family="'Liberation Sans', sans-serif" font-size="35" font-weight="bold" fill="#1f2a5c" text-anchor="middle"  stroke="#1f2a5c" stroke-width="0.4" stroke-linejoin="round">B</text>
<text x="165.0" y="656.5" font-family="'Liberation Sans', sans-serif" font-size="26" font-weight="bold" fill="#1e1e1e" text-anchor="middle" textLength="78.0" lengthAdjust="spacingAndGlyphs"  stroke="#1e1e1e" stroke-width="0.7" stroke-linejoin="round">Stair C</text>
<text x="197.5" y="717.3" font-family="'DejaVu Sans', sans-serif" font-size="25.6" font-weight="bold" fill="#111" text-anchor="middle" textLength="180.5" lengthAdjust="spacingAndGlyphs" >Barnard FLI</text>
<text x="197.5" y="751.0" font-family="'DejaVu Sans', sans-serif" font-size="25.6" font-weight="bold" fill="#111" text-anchor="middle" textLength="177.5" lengthAdjust="spacingAndGlyphs" >Partnership</text>
<text x="197.5" y="783.7" font-family="'DejaVu Sans', sans-serif" font-size="25.6" font-weight="bold" fill="#111" text-anchor="middle" textLength="107.0" lengthAdjust="spacingAndGlyphs" >Library</text>
<text x="785.6" y="1076.5" font-family="'Liberation Sans', sans-serif" font-size="38" font-weight="normal" fill="#262626" text-anchor="start" textLength="487.0" lengthAdjust="spacingAndGlyphs"  stroke="#262626" stroke-width="0.45" stroke-linejoin="round">Jyoti Menon Outdoor Terrace</text>
<text x="1458.0" y="970.8" font-family="'Liberation Sans', sans-serif" font-size="37.5" font-weight="bold" fill="#111" text-anchor="start" textLength="68.0" lengthAdjust="spacingAndGlyphs"  stroke="#111" stroke-width="0.7" stroke-linejoin="round">402</text>
<text x="1459.5" y="1012.0" font-family="'Liberation Sans', sans-serif" font-size="39" font-weight="normal" fill="#222" text-anchor="start" textLength="131.0" lengthAdjust="spacingAndGlyphs"  stroke="#222" stroke-width="0.45" stroke-linejoin="round">Meeting</text>
<text x="1459.5" y="1051.0" font-family="'Liberation Sans', sans-serif" font-size="39" font-weight="normal" fill="#222" text-anchor="start" textLength="90.0" lengthAdjust="spacingAndGlyphs"  stroke="#222" stroke-width="0.45" stroke-linejoin="round">Room</text>
<text x="1995.0" y="837.7" font-family="'Liberation Sans', sans-serif" font-size="23.6" font-weight="normal" fill="#000" text-anchor="start" textLength="90.0" lengthAdjust="spacingAndGlyphs" >Prayer &amp;</text>
<text x="1995.0" y="864.2" font-family="'Liberation Sans', sans-serif" font-size="23.6" font-weight="normal" fill="#000" text-anchor="start" textLength="162.0" lengthAdjust="spacingAndGlyphs" >Meditation Area</text>
<text x="2015.2" y="1084.0" font-family="'Liberation Sans', sans-serif" font-size="26" font-weight="normal" fill="#3a3a3a" text-anchor="start" textLength="141.2" lengthAdjust="spacingAndGlyphs"  stroke="#3a3a3a" stroke-width="0.3" stroke-linejoin="round">Stairs to 2nd</text>
<text x="2015.2" y="1108.9" font-family="'Liberation Sans', sans-serif" font-size="26" font-weight="normal" fill="#3a3a3a" text-anchor="start" textLength="160.6" lengthAdjust="spacingAndGlyphs"  stroke="#3a3a3a" stroke-width="0.3" stroke-linejoin="round">and 3rd Floors</text>
<text x="2306.7" y="1084.0" font-family="'Liberation Sans', sans-serif" font-size="26" font-weight="bold" fill="#1e1e1e" text-anchor="middle" textLength="72.6" lengthAdjust="spacingAndGlyphs"  stroke="#1e1e1e" stroke-width="0.7" stroke-linejoin="round">Stair B</text>
<text x="2306.7" y="1110.4" font-family="'Liberation Sans', sans-serif" font-size="26" font-weight="normal" fill="#3a3a3a" text-anchor="middle" textLength="72.6" lengthAdjust="spacingAndGlyphs"  stroke="#3a3a3a" stroke-width="0.3" stroke-linejoin="round">(Swipe</text>
<text x="2306.0" y="1138.5" font-family="'Liberation Sans', sans-serif" font-size="26" font-weight="normal" fill="#3a3a3a" text-anchor="middle" textLength="94.8" lengthAdjust="spacingAndGlyphs"  stroke="#3a3a3a" stroke-width="0.3" stroke-linejoin="round">re-entry)</text>
<text x="2291.0" y="1220.5" font-family="'Liberation Sans', sans-serif" font-size="23" font-weight="bold" fill="#1e1e1e" text-anchor="middle" textLength="40.5" lengthAdjust="spacingAndGlyphs"  stroke="#1e1e1e" stroke-width="0.7" stroke-linejoin="round">424</text>
<text x="2259.3" y="766.6" font-family="'Liberation Sans', sans-serif" font-size="24" font-weight="normal" fill="#3a3a3a" text-anchor="start" textLength="117.0" lengthAdjust="spacingAndGlyphs"  stroke="#3a3a3a" stroke-width="0.3" stroke-linejoin="round">Swipe Entry</text>
<text y="640.4" font-family="'Liberation Sans', sans-serif" fill="#3f3f3f"><tspan x="2573.3" font-size="31" textLength="18.5" lengthAdjust="spacingAndGlyphs">A</tspan><tspan x="2592.6" font-size="23.8" textLength="77.6" lengthAdjust="spacingAndGlyphs">THENA</tspan><tspan x="2670.4" font-size="23.8"> </tspan><tspan x="2688.4" font-size="31" textLength="17" lengthAdjust="spacingAndGlyphs">C</tspan><tspan x="2706.8" font-size="23.8" textLength="74.2" lengthAdjust="spacingAndGlyphs">ENTER</tspan></text>
<text x="2942.0" y="1006.8" font-family="'DejaVu Sans', sans-serif" font-size="21.4" font-weight="bold" fill="#111" text-anchor="middle" textLength="43.6" lengthAdjust="spacingAndGlyphs" >408</text>
<text x="3089.0" y="1067.4" font-family="'Liberation Sans', sans-serif" font-size="26" font-weight="bold" fill="#1e1e1e" text-anchor="middle" textLength="75.5" lengthAdjust="spacingAndGlyphs"  stroke="#1e1e1e" stroke-width="0.7" stroke-linejoin="round">Stair A</text>
<text x="3089.2" y="1095.0" font-family="'Liberation Sans', sans-serif" font-size="26" font-weight="normal" fill="#3a3a3a" text-anchor="middle" textLength="41.5" lengthAdjust="spacingAndGlyphs"  stroke="#3a3a3a" stroke-width="0.3" stroke-linejoin="round">(No</text>
<text x="3089.5" y="1122.0" font-family="'Liberation Sans', sans-serif" font-size="26" font-weight="normal" fill="#3a3a3a" text-anchor="middle" textLength="94.2" lengthAdjust="spacingAndGlyphs"  stroke="#3a3a3a" stroke-width="0.3" stroke-linejoin="round">re-entry)</text>
<text x="2267.0" y="1333.5" font-family="'Liberation Sans', sans-serif" font-size="37.5" font-weight="bold" fill="#111" text-anchor="start" textLength="67.0" lengthAdjust="spacingAndGlyphs"  stroke="#111" stroke-width="0.7" stroke-linejoin="round">423</text>
<text x="2267.0" y="1374.6" font-family="'Liberation Sans', sans-serif" font-size="30" font-weight="normal" fill="#222" text-anchor="start" textLength="319.7" lengthAdjust="spacingAndGlyphs"  stroke="#222" stroke-width="0.45" stroke-linejoin="round">The Hope L. Furth ’56 and</text>
<text x="2267.0" y="1414.8" font-family="'Liberation Sans', sans-serif" font-size="30" font-weight="normal" fill="#222" text-anchor="start" textLength="156.5" lengthAdjust="spacingAndGlyphs"  stroke="#222" stroke-width="0.45" stroke-linejoin="round">John L. Furth</text>
<text x="2267.0" y="1455.0" font-family="'Liberation Sans', sans-serif" font-size="31" font-weight="normal" fill="#1c1c1c" text-anchor="start" textLength="324.2" lengthAdjust="spacingAndGlyphs"  stroke="#1c1c1c" stroke-width="0.45" stroke-linejoin="round">Archives Reading Room</text>
<text x="2770.0" y="1334.4" font-family="'Liberation Sans', sans-serif" font-size="37.5" font-weight="bold" fill="#111" text-anchor="start" textLength="67.0" lengthAdjust="spacingAndGlyphs"  stroke="#111" stroke-width="0.7" stroke-linejoin="round">422</text>
<text x="2770.0" y="1375.5" font-family="'Liberation Sans', sans-serif" font-size="38.5" font-weight="normal" fill="#1c1c1c" text-anchor="start" textLength="259.3" lengthAdjust="spacingAndGlyphs"  stroke="#1c1c1c" stroke-width="0.45" stroke-linejoin="round">Archives Office</text>
<rect x="115.7" y="1606.3" width="67.6" height="66.5" fill="#d2dc45" />
<g transform="translate(115.7,1606.3) scale(0.6760)" fill="none" stroke="#22264d" stroke-width="3.5">
<rect x="29" y="30.6" width="42.1" height="56.4"/><line x1="50" y1="30.6" x2="50" y2="87" stroke-width="3.1"/>
<path d="M38.9 8.2 V26 M32.1 17.9 L38.9 25.1 L45.7 17.9" stroke-width="2.2"/>
<path d="M61.8 29 V10.4 M55 17.2 L61.8 10.4 L68.6 17.2" stroke-width="2.2"/>
</g>
<rect x="115.7" y="1705.6" width="67.0" height="66.6" fill="#4c3780" />
<rect x="115.7" y="1803.0" width="67.0" height="66.6" fill="#4c3780" />
<circle cx="169.1" cy="1836.6" r="2.6" fill="#fff"/>
<rect x="116.9" y="1897.0" width="64.6" height="64.19999999999999" fill="url(#phatchL)" stroke="#4c3780" stroke-width="2.4"/>
<rect x="695.8" y="1606.3" width="67.4" height="66.7" fill="#f7c784" />
<text x="730.5" y="1666.3" font-family="'Liberation Serif', serif" font-weight="bold" font-size="78.2" text-anchor="middle" fill="#1d2150" stroke="#1d2150" stroke-width="2.02" textLength="42.5" lengthAdjust="spacingAndGlyphs">P</text>
<g transform="translate(695.8,1606.3) scale(0.6740)" fill="#f7c784">
<ellipse cx="56" cy="40" rx="18" ry="16.5" fill="#1d2150"/>
<ellipse cx="52.5" cy="43.5" rx="10" ry="8.8"/>
<ellipse cx="43" cy="32" rx="3.6" ry="5" transform="rotate(-25 43 32)"/>
<ellipse cx="51" cy="26.5" rx="3.8" ry="5.2" transform="rotate(-8 51 26.5)"/>
<ellipse cx="60.5" cy="27.5" rx="3.8" ry="5.2" transform="rotate(14 60.5 27.5)"/>
<ellipse cx="67" cy="36" rx="3.6" ry="5" transform="rotate(38 67 36)"/>
</g>
<rect x="695.8" y="1705.6" width="67.4" height="66.7" fill="#efe4ec" />
<g transform="translate(695.8,1705.6) scale(0.6740)" stroke="#1d2150" stroke-linecap="round" fill="none">
<line x1="25" y1="60" x2="81" y2="60" stroke-width="10"/>
<path d="M30 33.5 L82.5 52.6 Q85.5 54 85 58" stroke-width="4" stroke-linejoin="round"/>
</g>
<rect x="695.8" y="1803.0" width="67.4" height="66.7" fill="#e3f2f9" />
<g transform="translate(695.8,1803.0) scale(0.6740)" stroke="#1d2150" fill="none">
<circle cx="40.8" cy="40.4" r="24" stroke-width="3.6"/>
<line x1="58" y1="59" x2="81" y2="84" stroke-width="8.8"/>
</g>
<rect x="695.8" y="1895.8" width="67.4" height="66.6" fill="#fff" />
<g transform="translate(695.80,1895.80)"><rect x="0.00" y="0.00" width="67.40" height="66.60" fill="url(#chkL)"/></g>
<rect x="1276.3" y="1606.3" width="67.0" height="67.0" fill="#d3e8f2" />
<g transform="translate(1281.26,1625.60) scale(0.6700) translate(-7.4,-28.8)" fill="none" stroke="#1d2150" stroke-linecap="butt" stroke-linejoin="miter">
<circle cx="39.9" cy="33.3" r="4.7" fill="#1d2150" stroke="none"/>
<circle cx="21.7" cy="64.8" r="12" stroke-width="4.6"/>
<path d="M27.5 52.8 H44.7 V70.4" stroke="#d3e8f2" stroke-width="8.2"/>
<path d="M37.4 41.2 L27.6 51.0" stroke="#d3e8f2" stroke-width="9.6" stroke-linecap="round"/>
<path d="M37.4 41.2 L27.2 51.4" stroke-width="7.6" stroke-linecap="round"/>
<path d="M35.4 38.4 L23.2 33.0 L15.8 39.2" stroke-width="4.4" stroke-linecap="round" stroke-linejoin="round"/>
<path d="M25.4 52.8 H44.7 V70.4" stroke-width="5.6"/>
</g>
<g transform="translate(1276.30,1606.30) scale(0.6700)" fill="#1d2150">
<ellipse cx="74.5" cy="30.6" rx="16.7" ry="17.7"/>
<ellipse cx="74.5" cy="54.6" rx="16.7" ry="5.6"/>
<path d="M57.8 54.6 C57.8 70 66 74.3 74.5 74.3 C83 74.3 91.2 70 91.2 54.6 Z"/>
<path d="M58.2 59.4 Q74.5 67.4 90.8 59.4" fill="none" stroke="#d3e8f2" stroke-width="1.7"/>
<path d="M69.2 77.6 H80.4 L82.4 86.6 H67.0 Z"/>
</g>
<rect x="1276.3" y="1705.6" width="67.0" height="67.0" fill="#d3e8f2" />
<text x="1284.7" y="1733.9" font-family="'Liberation Sans', sans-serif" font-size="23.115" font-weight="normal" fill="#1d2150" text-anchor="start" textLength="23.1" lengthAdjust="spacingAndGlyphs" >W</text>
<g transform="translate(1287.56,1740.17) scale(0.4288) translate(-7.4,-28.8)" fill="none" stroke="#1d2150" stroke-linecap="butt" stroke-linejoin="miter">
<circle cx="39.9" cy="33.3" r="4.7" fill="#1d2150" stroke="none"/>
<circle cx="21.7" cy="64.8" r="12" stroke-width="4.6"/>
<path d="M27.5 52.8 H44.7 V70.4" stroke="#d3e8f2" stroke-width="8.2"/>
<path d="M37.4 41.2 L27.6 51.0" stroke="#d3e8f2" stroke-width="9.6" stroke-linecap="round"/>
<path d="M37.4 41.2 L27.2 51.4" stroke-width="7.6" stroke-linecap="round"/>
<path d="M35.4 38.4 L23.2 33.0 L15.8 39.2" stroke-width="4.4" stroke-linecap="round" stroke-linejoin="round"/>
<path d="M25.4 52.8 H44.7 V70.4" stroke-width="5.6"/>
</g>
<g transform="translate(1274.96,1706.27) scale(0.6499)" fill="#1d2150">
<ellipse cx="74.5" cy="30.6" rx="16.7" ry="17.7"/>
<ellipse cx="74.5" cy="54.6" rx="16.7" ry="5.6"/>
<path d="M57.8 54.6 C57.8 70 66 74.3 74.5 74.3 C83 74.3 91.2 70 91.2 54.6 Z"/>
<path d="M58.2 59.4 Q74.5 67.4 90.8 59.4" fill="none" stroke="#d3e8f2" stroke-width="1.7"/>
<path d="M69.2 77.6 H80.4 L82.4 86.6 H67.0 Z"/>
</g>
<rect x="1276.3" y="1896.2" width="67.0" height="66.2" fill="#d3e8f2" />
<path transform="translate(1309.8,1896.2) scale(0.6620)" fill="#1d2150" d="M0 20 C6 36 21 52 21 66 A21 21 0 0 1 -21 66 C-21 52 -6 36 0 20 Z"/>
<text x="210.0" y="1655.4" font-family="'Liberation Sans', sans-serif" font-size="34" font-weight="normal" fill="#1f1f1f" text-anchor="start" textLength="122.0" lengthAdjust="spacingAndGlyphs"  stroke="#1f1f1f" stroke-width="0.5" stroke-linejoin="round">Elevator</text>
<text x="205.7" y="1756.8" font-family="'Liberation Sans', sans-serif" font-size="34" font-weight="normal" fill="#1f1f1f" text-anchor="start" textLength="272.3" lengthAdjust="spacingAndGlyphs"  stroke="#1f1f1f" stroke-width="0.5" stroke-linejoin="round">Open study space</text>
<text x="205.7" y="1829.3" font-family="'Liberation Sans', sans-serif" font-size="34" font-weight="normal" fill="#1f1f1f" text-anchor="start" textLength="346.3" lengthAdjust="spacingAndGlyphs"  stroke="#1f1f1f" stroke-width="0.5" stroke-linejoin="round">Open study space with</text>
<text x="205.7" y="1865.8" font-family="'Liberation Sans', sans-serif" font-size="34" font-weight="normal" fill="#1f1f1f" text-anchor="start" textLength="192.3" lengthAdjust="spacingAndGlyphs"  stroke="#1f1f1f" stroke-width="0.5" stroke-linejoin="round">fixed seating</text>
<text x="205.7" y="1914.6" font-family="'Liberation Sans', sans-serif" font-size="34" font-weight="normal" fill="#1f1f1f" text-anchor="start" textLength="283.5" lengthAdjust="spacingAndGlyphs"  stroke="#1f1f1f" stroke-width="0.5" stroke-linejoin="round">Available for study</text>
<text x="205.7" y="1944.7" font-family="'Liberation Sans', sans-serif" font-size="34" font-weight="normal" fill="#1f1f1f" text-anchor="start" textLength="355.9" lengthAdjust="spacingAndGlyphs"  stroke="#1f1f1f" stroke-width="0.5" stroke-linejoin="round">seating when space not</text>
<text x="205.7" y="1974.5" font-family="'Liberation Sans', sans-serif" font-size="34" font-weight="normal" fill="#1f1f1f" text-anchor="start" textLength="88.3" lengthAdjust="spacingAndGlyphs"  stroke="#1f1f1f" stroke-width="0.5" stroke-linejoin="round">in use</text>
<text x="784.2" y="1653.6" font-family="'Liberation Sans', sans-serif" font-size="34" font-weight="normal" fill="#1f1f1f" text-anchor="start" textLength="249.3" lengthAdjust="spacingAndGlyphs"  stroke="#1f1f1f" stroke-width="0.5" stroke-linejoin="round">PawPrint Station</text>
<text x="784.2" y="1756.8" font-family="'Liberation Sans', sans-serif" font-size="34" font-weight="normal" fill="#1f1f1f" text-anchor="start" textLength="121.3" lengthAdjust="spacingAndGlyphs"  stroke="#1f1f1f" stroke-width="0.5" stroke-linejoin="round">Scanner</text>
<text x="784.2" y="1856.2" font-family="'Liberation Sans', sans-serif" font-size="34" font-weight="normal" fill="#1f1f1f" text-anchor="start" textLength="225.0" lengthAdjust="spacingAndGlyphs"  stroke="#1f1f1f" stroke-width="0.5" stroke-linejoin="round">Lookup Station</text>
<text x="785.7" y="1940.0" font-family="'Liberation Sans', sans-serif" font-size="34" font-weight="normal" fill="#1f1f1f" text-anchor="start" textLength="346.9" lengthAdjust="spacingAndGlyphs"  stroke="#1f1f1f" stroke-width="0.5" stroke-linejoin="round">Books and other media</text>
<text x="1368.6" y="1659.5" font-family="'Liberation Sans', sans-serif" font-size="34" font-weight="normal" fill="#1f1f1f" text-anchor="start" textLength="412.1" lengthAdjust="spacingAndGlyphs"  stroke="#1f1f1f" stroke-width="0.5" stroke-linejoin="round">Gender Inclusive Bathroom</text>
<text x="1369.5" y="1750.0" font-family="'Liberation Sans', sans-serif" font-size="34" font-weight="normal" fill="#1f1f1f" text-anchor="start" textLength="300.1" lengthAdjust="spacingAndGlyphs"  stroke="#1f1f1f" stroke-width="0.5" stroke-linejoin="round">Women’s Bathroom</text>
<text x="1368.6" y="1943.9" font-family="'Liberation Sans', sans-serif" font-size="34" font-weight="normal" fill="#1f1f1f" text-anchor="start" textLength="94.1" lengthAdjust="spacingAndGlyphs"  stroke="#1f1f1f" stroke-width="0.5" stroke-linejoin="round">Water</text>
</svg>
</body></html>
